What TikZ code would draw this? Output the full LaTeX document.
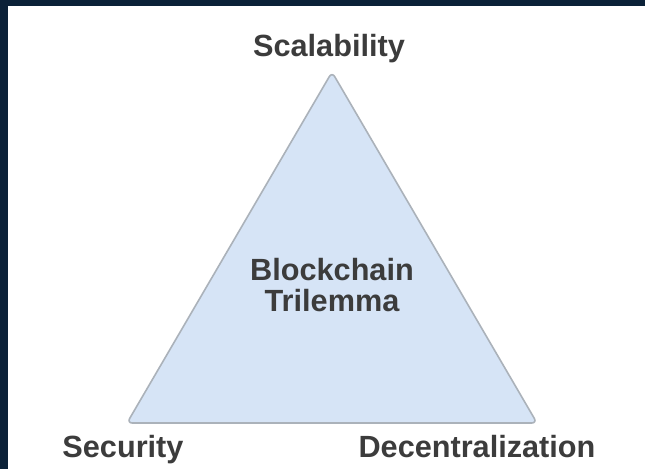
\documentclass[tikz,border=0pt]{standalone}
\usepackage{fontspec}
\setmainfont{Liberation Sans}
\definecolor{frameblue}{HTML}{0B2138}
\definecolor{triblue}{HTML}{D6E4F6}
\definecolor{trigrey}{HTML}{ABB2BA}
\definecolor{textgrey}{HTML}{3C3C3C}
\tikzset{
	corner/.style={font=\bfseries\fontsize{23}{23.3}\selectfont,text=textgrey,inner sep=0pt,anchor=base},
	trilemma/.style={draw=trigrey,fill=triblue,line width=1.2pt,rounded corners=4pt}
}
\begin{document}
\begin{tikzpicture}[x=0.75pt,y=-0.75pt]
	\useasboundingbox (0,0) rectangle (645,469);
	%FRAME
	\fill[frameblue] (0,0) rectangle (645,469);
	\fill[white] (8,6) rectangle (645,469);
	%TRIANGLE
	\coordinate (top) at (332,72);
	\coordinate (left) at (127,423);
	\coordinate (right) at (537,423);
	\draw[trilemma] (top)--(right)--(left)--cycle;
	\node[corner] (scal) at (329,56) {Scalability};
	\node[corner] (secu) at (123,457) {Security};
	\node[corner] (dece) at (477,457) {Decentralization};
	\node[corner,anchor=center,align=center] (block) at (332,285) {Blockchain\\Trilemma};
	%\draw[thick] (scal) -- (block);
\end{tikzpicture}
\end{document}
